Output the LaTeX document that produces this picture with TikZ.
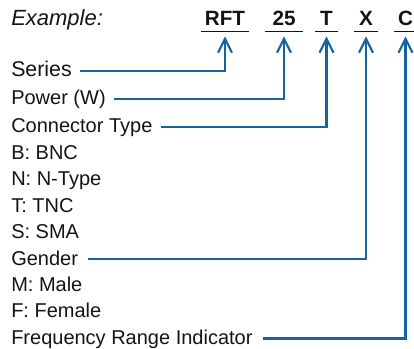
\documentclass[tikz,border=0pt]{standalone}
\usepackage{fontspec}
\setmainfont{Liberation Sans}
\usetikzlibrary{arrows.meta}
\definecolor{linkblue}{RGB}{20,100,160}
\definecolor{txt}{RGB}{20,20,20}
\begin{document}
\begin{tikzpicture}[x=0.75pt,y=-0.75pt,
  lbl/.style={anchor=base west,inner sep=0pt,text height=9pt,text depth=0pt,
    font=\fontsize{15}{18}\selectfont,text=txt},
  code/.style={anchor=base,inner xsep=0pt,inner ysep=3.75pt,text depth=0pt,
    font=\fontsize{15.5}{18}\selectfont\bfseries,text=txt},
  uline/.style={draw=txt,line width=0.9pt},
  conn/.style={draw=linkblue,line width=1.6pt,shorten <=6pt,
    -{Straight Barb[length=10.5pt,width=10.5pt]}}]
\useasboundingbox (0,0) rectangle (414,349);
\node[lbl,font=\fontsize{16.5}{20}\selectfont\itshape] (ex) at (11,26) {Example:};
\node[code,minimum width=48*0.75pt] (rft) at (225,26) {RFT};
\node[code,minimum width=38*0.75pt] (p25) at (284,26) {25};
\node[code,minimum width=22*0.75pt] (ct) at (326.5,26) {T};
\node[code,minimum width=23*0.75pt] (cx) at (366,26) {X};
\node[code,minimum width=22*0.75pt] (cc) at (405.5,26) {C};
\foreach \n in {rft,p25,ct,cx,cc}{\draw[uline] (\n.south west) -- (\n.south east);}
\node[lbl,font=\fontsize{16}{19}\selectfont] (series) at (11,77) {Series};
\node[lbl] (power) at (11,105) {Power (W)};
\node[lbl] (conntype) at (11,133) {Connector Type};
\node[lbl] (bnc) at (11,159.4) {B: BNC};
\node[lbl] (ntype) at (11,185.8) {N: N-Type};
\node[lbl] (tnc) at (11,212.2) {T: TNC};
\node[lbl] (sma) at (11,238.6) {S: SMA};
\node[lbl] (gender) at (11,265) {Gender};
\node[lbl] (male) at (11,291.4) {M: Male};
\node[lbl] (female) at (11,317.8) {F: Female};
\node[lbl] (freq) at (11,344.5) {Frequency Range Indicator};
\draw[conn] (series.east) -| ([yshift=-3.75pt]rft.south);
\draw[conn] (power.east) -| ([yshift=-3.75pt]p25.south);
\draw[conn] (conntype.east) -| ([yshift=-3.75pt]ct.south);
\draw[conn,shorten <=7.5pt] (gender.east) -| ([yshift=-3.75pt]cx.south);
\draw[conn,shorten <=7.5pt] (freq.east) -| ([yshift=-3.75pt]cc.south);
\end{tikzpicture}
\end{document}
